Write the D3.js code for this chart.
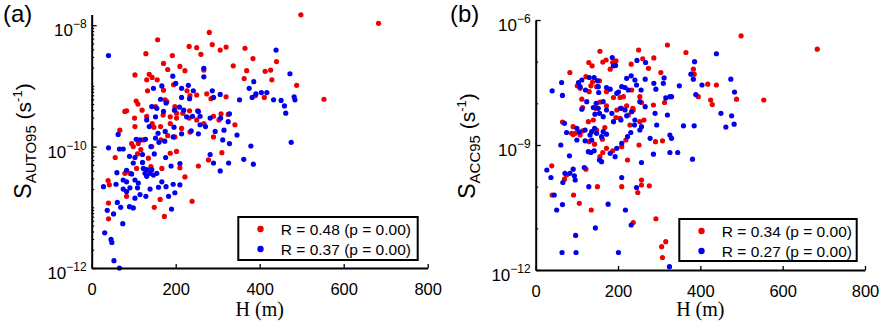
<!DOCTYPE html>
<html>
<head>
<meta charset="utf-8">
<script src="https://cdn.jsdelivr.net/npm/d3@7"></script>
<style>
  body { margin: 0; background: #fff; }
  text { font-family: "Liberation Sans", Arial, sans-serif; fill: #000; }
</style>
</head>
<body>
<svg width="880" height="324"></svg>
<script>
// data: [H (m), log10 S (s^-1)]
var autoRed = [[498,-7.83],[683,-7.97],[280,-8.12],[157,-8.24],[232,-8.35],[250,-8.37],[287,-8.32],[306,-8.41],[320,-8.36],[365,-8.38],[260,-8.48],[129,-8.47],[192,-8.50],[384,-8.55],[440,-8.60],[337,-8.67],[171,-8.63],[210,-8.68],[181,-8.73],[222,-8.75],[267,-8.74],[369,-8.75],[413,-8.76],[426,-8.74],[103,-8.82],[137,-8.81],[144,-8.86],[131,-8.90],[156,-8.90],[363,-8.88],[429,-8.90],[195,-8.98],[488,-8.99],[171,-9.07],[133,-9.08],[227,-9.08],[234,-9.16],[274,-9.13],[284,-9.21],[320,-9.18],[411,-9.19],[390,-9.16],[553,-9.22],[106,-9.25],[110,-9.30],[179,-9.26],[250,-9.15],[198,-9.34],[152,-9.34],[175,-9.23],[79,-9.42],[83,-9.41],[120,-9.40],[102,-9.53],[131,-9.50],[170,-9.48],[187,-9.51],[202,-9.45],[217,-9.45],[233,-9.41],[252,-9.41],[290,-9.50],[308,-9.46],[325,-9.47],[144,-9.62],[148,-9.68],[187,-9.62],[202,-9.53],[232,-9.53],[250,-9.56],[267,-9.62],[303,-9.56],[341,-9.64],[67,-9.73],[103,-9.67],[164,-9.67],[181,-9.82],[214,-9.70],[198,-9.84],[234,-9.76],[165,-9.89],[123,-9.89],[95,-9.95],[111,-9.95],[99,-10.00],[143,-10.00],[290,-9.84],[56,-10.18],[187,-10.11],[202,-10.08],[109,-10.12],[310,-10.10],[278,-10.22],[107,-10.36],[91,-10.44],[167,-10.36],[210,-10.35],[254,-10.32],[39,-10.56],[42,-10.63],[79,-10.44],[222,-10.50],[83,-10.82],[40,-10.93],[163,-10.87],[239,-10.90],[149,-11.00],[40,-11.19],[173,-11.15],[117,-10.05],[135,-10.19],[141,-10.33]];

var autoBlue = [[40,-8.50],[439,-8.41],[472,-8.80],[267,-8.71],[267,-8.85],[193,-8.84],[200,-8.96],[167,-9.00],[147,-9.04],[214,-9.04],[230,-8.99],[242,-9.08],[287,-9.08],[306,-9.14],[290,-9.19],[214,-9.19],[233,-9.21],[164,-9.22],[352,-9.23],[386,-8.93],[375,-9.04],[391,-9.13],[404,-9.11],[417,-9.11],[382,-9.19],[433,-9.23],[451,-9.24],[459,-9.33],[462,-9.45],[484,-9.23],[482,-9.18],[475,-9.93],[143,-9.34],[155,-9.37],[171,-9.42],[177,-9.28],[197,-9.40],[209,-9.35],[219,-9.40],[226,-9.51],[240,-9.50],[254,-9.42],[258,-9.50],[282,-9.53],[307,-9.53],[328,-9.46],[325,-9.59],[196,-9.68],[214,-9.79],[237,-9.74],[254,-9.79],[258,-9.64],[271,-9.67],[294,-9.75],[315,-9.73],[346,-9.81],[328,-9.95],[312,-9.89],[379,-9.99],[282,-10.13],[290,-10.27],[306,-10.40],[326,-10.27],[362,-10.21],[385,-10.29],[152,-9.51],[131,-9.56],[137,-9.67],[158,-9.78],[152,-9.86],[175,-9.75],[141,-10.00],[160,-9.93],[149,-10.12],[176,-10.18],[210,-10.28],[189,-10.32],[106,-9.88],[115,-9.89],[128,-9.88],[121,-10.13],[90,-10.16],[63,-9.80],[66,-10.04],[75,-10.04],[40,-10.02],[103,-10.18],[121,-10.26],[99,-10.27],[131,-10.38],[139,-10.44],[147,-10.47],[127,-10.44],[123,-10.36],[155,-10.44],[131,-10.49],[143,-10.38],[83,-10.39],[95,-10.45],[103,-10.55],[111,-10.60],[83,-10.58],[75,-10.55],[60,-10.43],[28,-10.66],[58,-10.62],[91,-10.68],[109,-10.68],[75,-10.70],[83,-10.74],[115,-10.79],[129,-10.82],[139,-10.70],[159,-10.67],[177,-10.66],[167,-10.58],[194,-10.62],[210,-10.63],[183,-10.82],[198,-10.76],[103,-10.85],[90,-10.99],[99,-11.01],[69,-11.00],[61,-10.92],[37,-11.05],[52,-11.11],[74,-11.27],[190,-11.03],[31,-11.42],[46,-11.53],[48,-11.58],[53,-11.88],[66,-12.00],[174,-9.91],[194,-9.84]];

var accRed = [[499,-6.38],[684,-6.70],[320,-6.60],[365,-6.78],[156,-6.75],[250,-6.72],[129,-7.02],[137,-7.10],[163,-7.01],[171,-6.96],[187,-7.02],[195,-6.98],[181,-7.18],[232,-7.06],[260,-6.93],[274,-7.16],[287,-6.91],[304,-7.26],[83,-7.26],[383,-7.18],[385,-7.30],[418,-7.54],[439,-7.56],[395,-7.84],[425,-7.92],[429,-8.03],[488,-7.90],[554,-7.92],[101,-7.58],[108,-7.64],[134,-7.58],[130,-7.72],[122,-7.36],[138,-7.49],[148,-7.60],[155,-7.46],[172,-7.72],[189,-7.86],[205,-7.86],[213,-7.84],[233,-7.68],[253,-7.84],[112,-7.90],[114,-8.10],[145,-8.12],[156,-7.97],[172,-8.06],[197,-8.16],[209,-8.12],[221,-8.06],[236,-8.12],[237,-8.16],[257,-7.98],[286,-8.04],[313,-7.98],[65,-8.45],[91,-8.56],[96,-8.72],[114,-8.66],[128,-8.44],[140,-8.40],[148,-8.64],[168,-8.58],[195,-8.34],[205,-8.36],[225,-8.28],[229,-8.52],[253,-8.44],[263,-8.40],[87,-8.72],[91,-8.75],[108,-8.76],[130,-8.92],[143,-8.98],[162,-8.86],[172,-9.08],[187,-9.14],[209,-9.04],[219,-8.88],[251,-9.00],[291,-8.92],[308,-8.90],[75,-9.72],[39,-9.50],[40,-10.20],[92,-10.20],[106,-10.40],[122,-9.58],[150,-10.00],[135,-10.56],[209,-10.00],[223,-9.36],[257,-9.84],[257,-9.96],[248,-10.14],[276,-9.98],[237,-10.86],[292,-10.77],[306,-11.44],[316,-11.32],[308,-11.70],[70,-9.82],[156,-9.28],[163,-9.18]];

var accBlue = [[439,-6.81],[386,-7.00],[186,-6.90],[189,-7.10],[194,-7.09],[246,-6.97],[267,-7.02],[377,-7.30],[383,-7.42],[404,-7.56],[474,-7.42],[483,-7.73],[389,-7.79],[349,-7.58],[326,-7.84],[316,-7.87],[63,-7.50],[40,-7.70],[65,-7.81],[104,-7.50],[112,-7.44],[108,-7.60],[121,-7.68],[130,-7.38],[142,-7.38],[150,-7.46],[152,-7.60],[153,-7.74],[172,-7.62],[181,-7.66],[197,-7.76],[201,-7.73],[209,-7.60],[217,-7.62],[221,-7.40],[232,-7.34],[241,-7.44],[225,-7.68],[256,-7.68],[266,-7.42],[287,-7.52],[292,-7.66],[310,-7.52],[312,-7.39],[253,-7.96],[245,-7.56],[112,-8.14],[124,-7.96],[140,-8.10],[147,-8.00],[152,-8.12],[164,-7.96],[144,-8.26],[155,-8.24],[164,-8.32],[172,-8.16],[185,-8.24],[206,-8.12],[217,-8.16],[189,-8.44],[207,-8.40],[221,-8.30],[233,-8.20],[240,-8.52],[257,-8.56],[266,-8.08],[290,-8.24],[320,-8.28],[330,-7.84],[359,-8.54],[385,-8.54],[450,-8.24],[462,-8.57],[476,-8.30],[482,-8.50],[70,-8.48],[75,-8.70],[100,-8.60],[106,-8.69],[120,-8.64],[136,-8.68],[143,-8.60],[148,-8.72],[164,-8.68],[172,-8.74],[132,-8.76],[100,-8.88],[120,-8.90],[136,-8.88],[160,-8.80],[61,-9.00],[82,-9.26],[128,-9.16],[134,-9.18],[142,-9.14],[155,-9.36],[160,-9.40],[181,-9.20],[193,-9.28],[197,-9.08],[209,-8.96],[223,-8.80],[231,-8.70],[241,-8.40],[253,-8.64],[278,-8.84],[294,-8.52],[286,-9.22],[326,-8.76],[330,-8.84],[326,-9.18],[345,-9.18],[381,-9.34],[257,-9.42],[27,-9.60],[37,-9.78],[45,-10.20],[66,-9.90],[71,-9.68],[83,-9.68],[91,-9.58],[94,-9.74],[118,-9.54],[129,-10.00],[51,-10.56],[65,-10.43],[97,-11.17],[145,-10.99],[176,-10.42],[209,-9.78],[218,-10.56],[245,-10.02],[232,-10.92],[64,-11.58],[98,-11.58],[201,-11.58],[325,-11.92],[96,-9.84]];

var xTicks = [0, 200, 400, 600, 800];
var legendA = ["R = 0.48 (p = 0.00)", "R = 0.37 (p = 0.00)"];
var legendB = ["R = 0.34 (p = 0.00)", "R = 0.27 (p = 0.00)"];

var RED = "#ee0000", BLUE = "#0000ee";

var svg = d3.select("svg");

// log minor ticks 1..9 x 10^k inside a domain
function logMinors(lo, hi, every) {
  var out = [];
  for (var k = Math.floor(Math.log10(lo)); k <= Math.ceil(Math.log10(hi)); k++) {
    var steps = every ? [1,2,3,4,5,6,7,8,9] : [1];
    steps.forEach(function(m) {
      var v = m * Math.pow(10, k);
      if (v >= lo * 0.999 && v <= hi * 1.001) out.push(v);
    });
  }
  return out;
}

var panels = [
  { tag: "(a)", tagX: 3, sub: "AUTO95", red: autoRed, blue: autoBlue, legend: legendA,
    xr: [91.7, 427.7], yr: [268, 14.5], yd: [1e-12, 1.5e-8],
    majors: [1e-12, 1e-10, 1e-8], minorAll: true,
    titleX: 31, titleY: 141, box: [238.3, 217, 179.4, 43] },
  { tag: "(b)", tagX: 450, sub: "ACC95", red: accRed, blue: accBlue, legend: legendB,
    xr: [535.7, 865], yr: [270, 20], yd: [1e-12, 1e-6],
    majors: [1e-12, 1e-9, 1e-6], minorAll: false,
    titleX: 475, titleY: 146, box: [679.3, 219, 177.4, 42] }
];

panels.forEach(function(p) {
  var x = d3.scaleLinear().domain([0, 800]).range(p.xr);
  var y = d3.scaleLog().domain(p.yd).range(p.yr);
  var g = svg.append("g");

  // points: red first, blue on top
  [[p.red, RED], [p.blue, BLUE]].forEach(function(s) {
    g.append("g").selectAll("circle")
      .data(s[0])
      .join("circle")
      .attr("cx", d => x(d[0]))
      .attr("cy", d => y(Math.pow(10, d[1])))
      .attr("r", 2.6)
      .attr("fill", s[1]);
  });

  // x axis, ticks pointing inward
  var xa = g.append("g")
    .attr("transform", "translate(0," + p.yr[0] + ")")
    .call(d3.axisBottom(x).tickValues(xTicks).tickSizeInner(-4).tickSizeOuter(0).tickPadding(15).tickFormat(d3.format("d")));
  xa.select(".domain").attr("stroke-width", 2);
  xa.selectAll(".tick line").attr("stroke-width", 1.3);
  xa.selectAll(".tick text").style("font-size", "16.5px").attr("fill", "#000");

  // y axis: minor ticks, then major ticks
  var minors = logMinors(p.yd[0], p.yd[1], p.minorAll).filter(v => p.majors.every(m => Math.abs(m - v) / m > 1e-6));
  var ym = g.append("g")
    .attr("transform", "translate(" + p.xr[0] + ",0)")
    .call(d3.axisLeft(y).tickValues(minors).tickSizeInner(-2.5).tickSizeOuter(0).tickFormat(""));
  ym.select(".domain").remove();
  ym.selectAll(".tick line").attr("stroke-width", 1.2);

  var ya = g.append("g")
    .attr("transform", "translate(" + p.xr[0] + ",0)")
    .call(d3.axisLeft(y).tickValues(p.majors).tickSizeInner(-5).tickSizeOuter(0).tickFormat(""));
  ya.select(".domain").attr("stroke-width", 2);
  ya.selectAll(".tick line").attr("stroke-width", 1.3);

  // y tick labels with superscript exponents
  var lab = g.append("g").selectAll("text")
    .data(p.majors)
    .join("text")
    .attr("x", p.xr[0] - 5)
    .attr("y", d => y(d) + 11)
    .attr("text-anchor", "end");
  lab.append("tspan").style("font-size", "17px").text("10");
  lab.append("tspan").style("font-size", "12px").attr("dy", -8)
    .text(d => "\u2212" + Math.round(-Math.log10(d)));

  // y title
  var yt = g.append("text")
    .attr("transform", "translate(" + p.titleX + "," + p.titleY + ") rotate(-90)")
    .attr("text-anchor", "middle");
  yt.append("tspan").style("font-size", "23px").text("S");
  yt.append("tspan").style("font-size", "15px").attr("dy", 5).text(p.sub);
  yt.append("tspan").style("font-size", "21px").attr("dy", -5).text(" (s");
  yt.append("tspan").style("font-size", "13px").attr("dy", -9).text("-1");
  yt.append("tspan").style("font-size", "21px").attr("dy", 9).text(")");

  // x title
  g.append("text")
    .attr("x", (p.xr[0] + p.xr[1]) / 2)
    .attr("y", 316)
    .attr("text-anchor", "middle")
    .style("font-family", "'Liberation Serif', 'Times New Roman', serif")
    .style("font-size", "20px")
    .text("H (m)");

  // panel tag
  g.append("text")
    .attr("x", p.tagX)
    .attr("y", 22)
    .style("font-size", "24px")
    .text(p.tag);

  // legend
  var b = p.box;
  var lg = g.append("g").attr("transform", "translate(" + b[0] + "," + b[1] + ")");
  lg.append("rect")
    .attr("width", b[2]).attr("height", b[3])
    .attr("fill", "#fff").attr("stroke", "#000").attr("stroke-width", 2);
  var rows = lg.selectAll("g.row")
    .data(p.legend)
    .join("g")
    .attr("class", "row")
    .attr("transform", (d, i) => "translate(0," + (12 + i * 20) + ")");
  rows.append("circle")
    .attr("cx", 22.2).attr("cy", 0).attr("r", 3.2)
    .attr("fill", (d, i) => i === 0 ? RED : BLUE);
  rows.append("text")
    .attr("x", 42.5).attr("y", 5.5)
    .style("font-size", "15.5px")
    .text(d => d);
});
</script>
</body>
</html>
